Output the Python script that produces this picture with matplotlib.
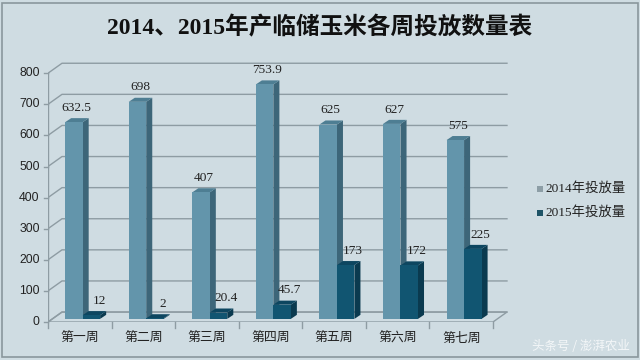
import matplotlib
matplotlib.use("Agg")
import matplotlib.pyplot as plt
from matplotlib.patches import Polygon, Rectangle
import numpy as np

plt.rcParams['font.family'] = ['Liberation Sans', 'Noto Sans CJK SC']

categories = ['第一周', '第二周', '第三周', '第四周', '第五周', '第六周', '第七周']
v2014 = [632.5, 698, 407, 753.9, 625, 627, 575]
v2015 = [12, 2, 20.4, 45.7, 173, 172, 225]
labels2014 = ['632.5', '698', '407', '753.9', '625', '627', '575']
labels2015 = ['12', '2', '20.4', '45.7', '173', '172', '225']
series_names = ['2014年投放量', '2015年投放量']
yticks = [0, 100, 200, 300, 400, 500, 600, 700, 800]
title = '2014、2015年产临储玉米各周投放数量表'

bg = '#cfdce2'
grid_c = '#8e9ca3'
c14_front, c14_side, c14_top = '#6395ab', '#3d6679', '#4e7e93'
c15_front, c15_side, c15_top = '#115571', '#0a3a4f', '#0d4660'
leg14, leg15 = '#8d9ea6', '#1d5366'

fig = plt.figure(figsize=(6.4, 3.6), dpi=100)
fig.patch.set_facecolor(bg)
# outer border
fig.add_artist(Rectangle((0.003, 0.008), 0.994, 0.985, transform=fig.transFigure,
                         fill=False, edgecolor='#8a979d', linewidth=1.2))

ax = fig.add_axes([48/640, 38/360, 7.25*63.57/640, 835*0.311/360])
ax.set_xlim(0, 7.25)
ax.set_ylim(0, 835)
ax.set_facecolor('none')
for s in ax.spines.values():
    s.set_visible(False)
ax.set_xticks([])
ax.set_yticks([])

n = len(categories)
wdx, wdy = 0.22, 32   # wall depth
# gridlines: side wall diagonal + back wall
for t in yticks:
    ax.plot([0, wdx, n + wdx], [t, t + wdy, t + wdy], color=grid_c, lw=1.0, zorder=1)
# floor
ax.plot([0, n, n + wdx, wdx, 0], [0, 0, wdy, wdy, 0], color=grid_c, lw=1.0, zorder=1)
# front y axis line
ax.plot([0, 0], [0, 800], color=grid_c, lw=1.0, zorder=1)
# y ticks and labels
for t in yticks:
    ax.plot([-0.06, 0], [t, t], color=grid_c, lw=1.0, clip_on=False)
    ax.text(-0.13, t, str(t), ha='right', va='center', fontsize=8.8, color='#222222')
# x ticks
for i in range(n + 1):
    ax.plot([i, i], [0, -18], color=grid_c, lw=1.0, clip_on=False)
for i, c in enumerate(categories):
    ax.text(i + 0.5, -52, c, ha='center', va='center', fontsize=9.3,
            family=['Noto Sans CJK SC'], color='#222222')

bw = 0.275
bdx, bdy = 0.095, 13
oy = 10


def draw_bar(x0, h, front, side, top, z):
    x1 = x0 + bw
    y0 = oy
    y1 = oy + h
    ax.add_patch(Polygon([[x1, y0], [x1 + bdx, y0 + bdy], [x1 + bdx, y1 + bdy], [x1, y1]],
                         closed=True, facecolor=side, edgecolor='none', zorder=z))
    ax.add_patch(Polygon([[x0, y1], [x0 + bdx, y1 + bdy], [x1 + bdx, y1 + bdy], [x1, y1]],
                         closed=True, facecolor=top, edgecolor='none', zorder=z))
    ax.bar(x0, h, width=bw, bottom=y0, align='edge', color=front, zorder=z, linewidth=0)


for i in range(n):
    xa = i + 0.27
    draw_bar(xa, v2014[i], c14_front, c14_side, c14_top, 3 + i * 2)
    xb = xa + bw
    draw_bar(xb, v2015[i], c15_front, c15_side, c15_top, 4 + i * 2)
    ax.annotate(labels2014[i], (xa + bw / 2 + 0.04, oy + v2014[i]), xytext=(0, 6),
                textcoords='offset points', ha='center', va='bottom', fontsize=9.6,
                family=['Liberation Serif'], color='#222222', zorder=30)
    ax.annotate(labels2015[i], (xb + bw / 2 + 0.12, oy + v2015[i]), xytext=(0, 6),
                textcoords='offset points', ha='center', va='bottom', fontsize=9.6,
                family=['Liberation Serif'], color='#222222', zorder=30)

# legend
for k, (name, col) in enumerate(zip(series_names, [leg14, leg15])):
    yy = 1 - (188 + k * 24) / 360
    fig.add_artist(Rectangle((537/640, yy - 0.011), 6/640, 6/360, transform=fig.transFigure,
                             facecolor=col, edgecolor='none'))
    fig.text(545/640, yy, name, ha='left', va='center', fontsize=9.6,
             family=['Liberation Serif', 'Noto Sans CJK SC'], color='#222222')

fig.text(0.5, 1 - 28/360, title, ha='center', va='center', fontsize=17, fontweight='bold',
         family=['Liberation Serif', 'Noto Sans CJK SC'], color='#111111')

fig.text(630/640, 1 - 346/360, '头条号 / 澎湃农业', ha='right', va='center', fontsize=9,
         family=['Noto Sans CJK SC'], color='white', alpha=0.75)

fig.savefig('out.png', dpi=100, facecolor=bg)
